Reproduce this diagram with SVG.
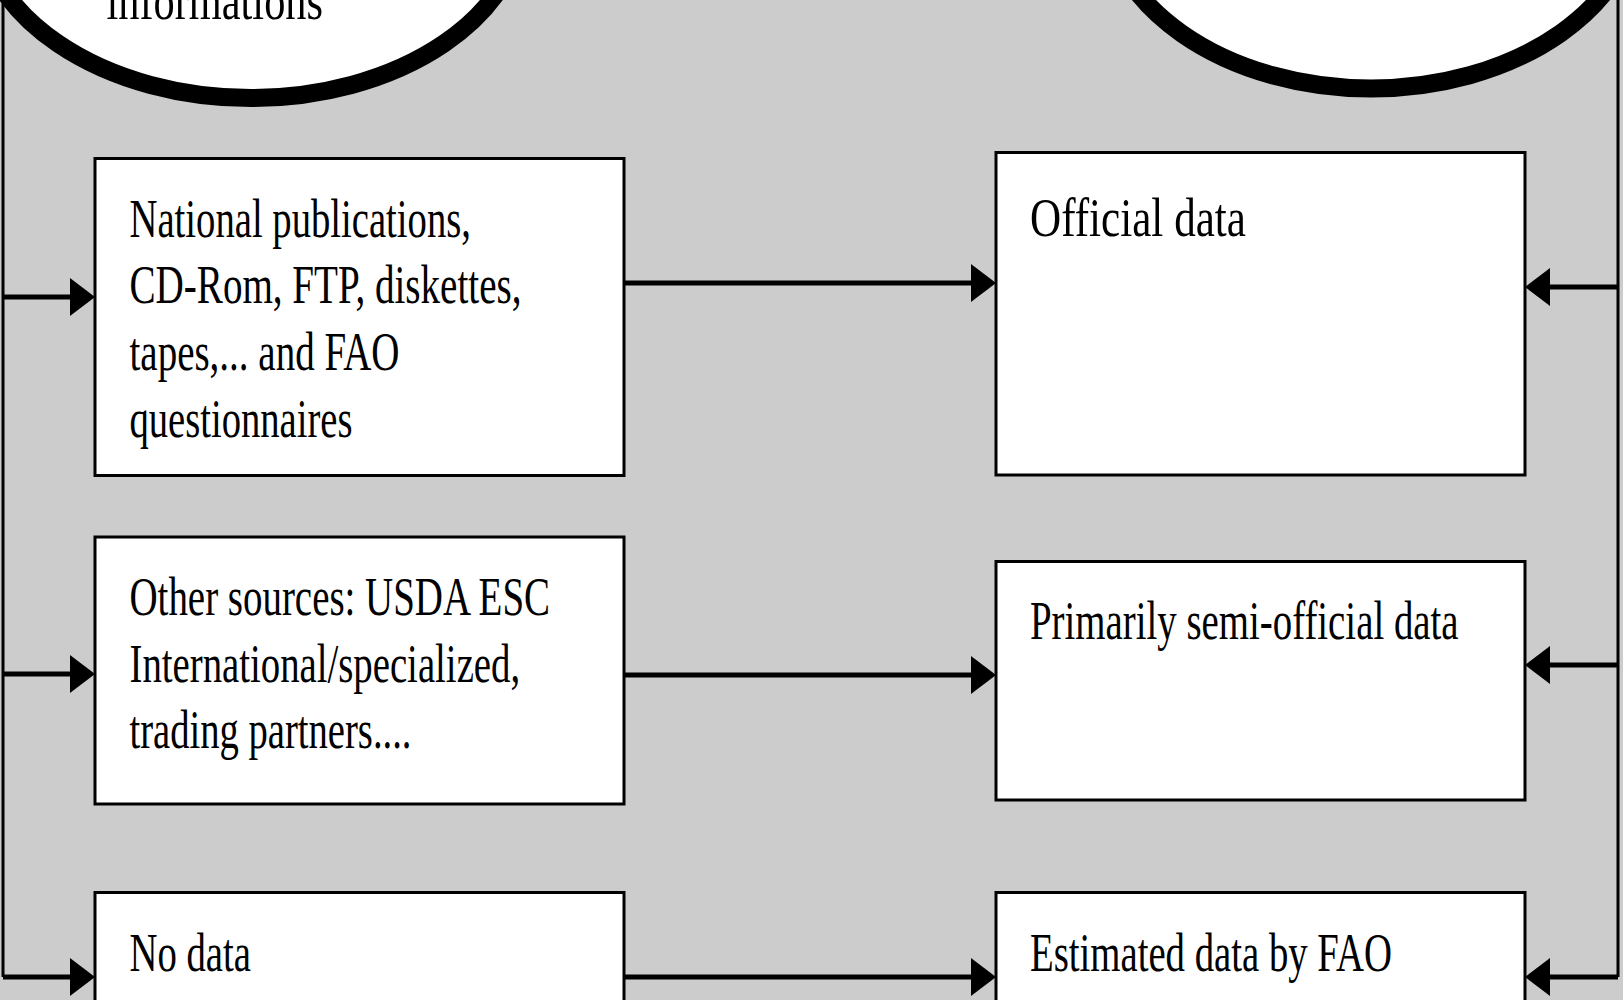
<svg xmlns="http://www.w3.org/2000/svg" width="1623" height="1000" viewBox="0 0 1623 1000">
  <style>
    .box { fill: #ffffff; stroke: #000000; stroke-width: 3; }
    .oval { fill: #ffffff; stroke: #000000; stroke-width: 18; }
    .txt { font-family: "Liberation Serif", "Times New Roman", serif; font-size: 55px; fill: #000000; }
    .rail { fill: none; stroke: #000000; stroke-width: 3; }
    .link { fill: none; stroke: #000000; stroke-width: 5; }
  </style>
  <defs>
    <marker id="head" markerUnits="userSpaceOnUse" markerWidth="26" markerHeight="38" viewBox="0 0 26 38" refX="0" refY="19" orient="auto">
      <path d="M0,0 L25,19 L0,38 Z" fill="#000000"/>
    </marker>
  </defs>

  <!-- background panel -->
  <rect x="0" y="0" width="1623" height="1000" fill="#cccccc"/>

  <!-- connectors -->
  <g id="connectors">
    <!-- left feed rail -->
    <path class="rail" d="M3,0 V977"/>
    <path class="link" d="M3,297 H70" marker-end="url(#head)"/>
    <path class="link" d="M3,674 H70" marker-end="url(#head)"/>
    <path class="link" d="M3,977 H70" marker-end="url(#head)"/>
    <!-- source to result -->
    <path class="link" d="M624,283 H971" marker-end="url(#head)"/>
    <path class="link" d="M624,675 H971" marker-end="url(#head)"/>
    <path class="link" d="M624,977 H971" marker-end="url(#head)"/>
    <!-- right feed rail -->
    <path class="rail" d="M1618,0 V977"/>
    <path class="link" d="M1618,287 H1550" marker-end="url(#head)"/>
    <path class="link" d="M1618,665 H1550" marker-end="url(#head)"/>
    <path class="link" d="M1618,977 H1550" marker-end="url(#head)"/>
  </g>

  <!-- top ovals -->
  <g id="oval-left">
    <ellipse class="oval" cx="251" cy="-88" rx="273" ry="186"/>
    <text class="txt" x="106.5" y="19" textLength="216.5" lengthAdjust="spacingAndGlyphs">informations</text>
  </g>
  <g id="oval-right">
    <ellipse class="oval" cx="1371" cy="-100" rx="268" ry="188.5"/>
  </g>

  <!-- source boxes -->
  <g id="national">
    <rect class="box" x="95" y="158.5" width="529" height="317"/>
    <text class="txt" x="129.5" y="236.7" textLength="341.5" lengthAdjust="spacingAndGlyphs">National publications,</text>
    <text class="txt" x="129.5" y="303.3" textLength="392" lengthAdjust="spacingAndGlyphs">CD-Rom, FTP, diskettes,</text>
    <text class="txt" x="129.5" y="370" textLength="270" lengthAdjust="spacingAndGlyphs">tapes,... and FAO</text>
    <text class="txt" x="129.5" y="436.7" textLength="223" lengthAdjust="spacingAndGlyphs">questionnaires</text>
  </g>
  <g id="other-sources">
    <rect class="box" x="95" y="537" width="529" height="267"/>
    <text class="txt" x="129.5" y="615" textLength="420.5" lengthAdjust="spacingAndGlyphs">Other sources: USDA ESC</text>
    <text class="txt" x="129.5" y="681.7" textLength="390.6" lengthAdjust="spacingAndGlyphs">International/specialized,</text>
    <text class="txt" x="129.5" y="748.3" textLength="282" lengthAdjust="spacingAndGlyphs">trading partners....</text>
  </g>
  <g id="no-data">
    <rect class="box" x="95" y="892.5" width="529" height="200"/>
    <text class="txt" x="129.5" y="971" textLength="121.5" lengthAdjust="spacingAndGlyphs">No data</text>
  </g>

  <!-- result boxes -->
  <g id="official">
    <rect class="box" x="996" y="152.5" width="529" height="322.5"/>
    <text class="txt" x="1030" y="235.7" textLength="216" lengthAdjust="spacingAndGlyphs">Official data</text>
  </g>
  <g id="semi-official">
    <rect class="box" x="996" y="561.5" width="529" height="238.5"/>
    <text class="txt" x="1030" y="639" textLength="428.6" lengthAdjust="spacingAndGlyphs">Primarily semi-official data</text>
  </g>
  <g id="estimated">
    <rect class="box" x="996" y="892.5" width="529" height="200"/>
    <text class="txt" x="1030" y="970.7" textLength="362" lengthAdjust="spacingAndGlyphs">Estimated data by FAO</text>
  </g>
</svg>
